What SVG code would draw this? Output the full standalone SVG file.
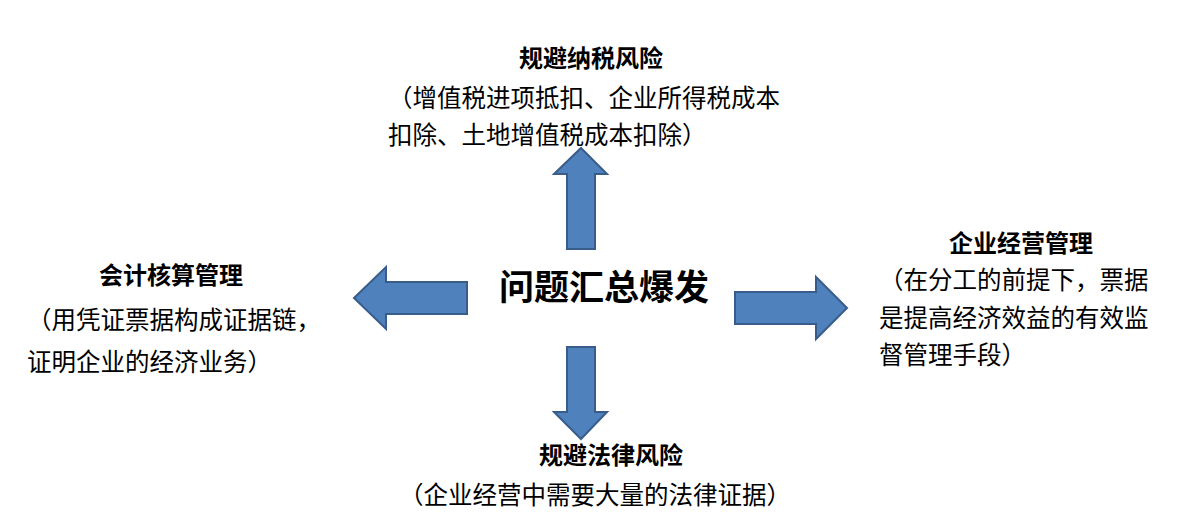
<svg xmlns="http://www.w3.org/2000/svg" width="1184" height="529" viewBox="0 0 1184 529">
<style>
.t{font-family:"Noto Sans CJK SC","Liberation Sans",sans-serif;fill:#000}
.h{font-size:24px;font-weight:bold;text-anchor:middle}
.p{font-size:24.5px}
.c{font-size:35px;font-weight:bold;text-anchor:middle}
.arr{fill:#4F81BD;stroke:#385D8A;stroke-width:2;stroke-linejoin:miter}
</style>
<rect width="1184" height="529" fill="#fff"/>
<g id="connectors">
<polygon class="arr" points="581,148 607,174 595,174 595,249 567,249 567,174 554,174"/>
<polygon class="arr" points="354,298 386,267 386,282 467,282 467,314 386,314 386,329"/>
<polygon class="arr" points="847,308 816,277 816,292 735,292 735,324 816,324 816,339"/>
<polygon class="arr" points="581,439 607,412 595,412 595,347 567,347 567,412 554,412"/>
</g>
<g id="center"><text class="t c" x="604" y="300">问题汇总爆发</text></g>
<g id="top">
<text class="t h" x="591" y="67">规避纳税风险</text>
<text class="t p" x="388" y="107">（增值税进项抵扣、企业所得税成本</text>
<text class="t p" x="388" y="144">扣除、土地增值税成本扣除）</text>
</g>
<g id="left">
<text class="t h" x="171" y="284">会计核算管理</text>
<text class="t p" x="27" y="329">（用凭证票据构成证据链，</text>
<text class="t p" x="27" y="371">证明企业的经济业务）</text>
</g>
<g id="right">
<text class="t h" x="1021" y="252">企业经营管理</text>
<text class="t p" x="879" y="289">（在分工的前提下，票据</text>
<text class="t p" x="879" y="327">是提高经济效益的有效监</text>
<text class="t p" x="879" y="364">督管理手段）</text>
</g>
<g id="bottom">
<text class="t h" x="611" y="464">规避法律风险</text>
<text class="t p" x="399" y="504">（企业经营中需要大量的法律证据）</text>
</g>
</svg>
